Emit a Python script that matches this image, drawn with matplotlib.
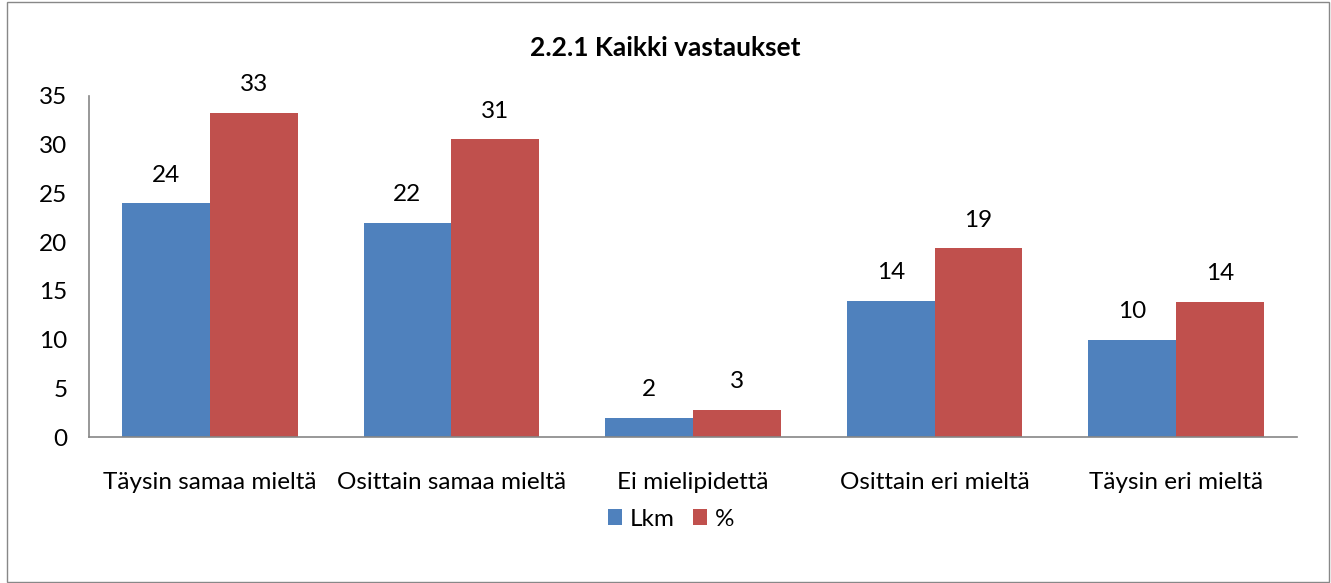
import matplotlib
matplotlib.use("Agg")
import matplotlib.pyplot as plt
from matplotlib.patches import Rectangle
import numpy as np

categories = ["Täysin samaa mieltä", "Osittain samaa mieltä", "Ei mielipidettä",
              "Osittain eri mieltä", "Täysin eri mieltä"]
lkm = [24, 22, 2, 14, 10]
pct = [33.3, 30.6, 2.8, 19.4, 13.9]
series_names = ["Lkm", "%"]
title = "2.2.1 Kaikki vastaukset"
yticks = [0, 5, 10, 15, 20, 25, 30, 35]

plt.rcParams['font.family'] = ['Lato', 'DejaVu Sans']

W, H = 1331, 583
fig = plt.figure(figsize=(W / 100, H / 100), dpi=100)
fig.patches.append(Rectangle((7 / W, 1 / H), (W - 9) / W, (H - 3) / H, transform=fig.transFigure,
                             fill=False, edgecolor='#888888', linewidth=1))

ax = fig.add_axes([89 / W, 1 - 437 / H, (1297 - 89) / W, (437 - 96) / H])
x = np.arange(len(categories))
bw = 1 / 2.75
blue = '#4F81BD'
red = '#C0504D'
fs = 17.5
b1 = ax.bar(x - bw / 2, lkm, bw, color=blue, label=series_names[0])
b2 = ax.bar(x + bw / 2, pct, bw, color=red, label=series_names[1])
for bars, vals in ((b1, lkm), (b2, pct)):
    for r, v in zip(bars, vals):
        ax.annotate(f"{v:.0f}", (r.get_x() + r.get_width() / 2, r.get_height()),
                    xytext=(0, 12.5), textcoords='offset points', ha='center', va='bottom',
                    fontsize=fs)

ax.set_xlim(-0.5, len(categories) - 0.5)
ax.set_ylim(0, 35)
ax.set_yticks(yticks)
ax.set_xticks(x)
ax.set_xticklabels(categories)
ax.tick_params(axis='both', length=0, labelsize=fs)
ax.tick_params(axis='x', pad=25)
ax.tick_params(axis='y', pad=15.5)
for s in ['top', 'right']:
    ax.spines[s].set_visible(False)
for s in ['left', 'bottom']:
    ax.spines[s].set_color('#868686')
    ax.spines[s].set_linewidth(1.2)

fig.text(0.5, 1 - 48 / H, title, ha='center', va='center', fontsize=19, fontweight='bold')
fig.legend(loc='center', bbox_to_anchor=(671 / W, 1 - 519 / H), ncol=2, frameon=False,
           fontsize=fs, handlelength=0.6, handleheight=0.6, handletextpad=0.3, columnspacing=0.75)

fig.savefig("out.png", dpi=100)
